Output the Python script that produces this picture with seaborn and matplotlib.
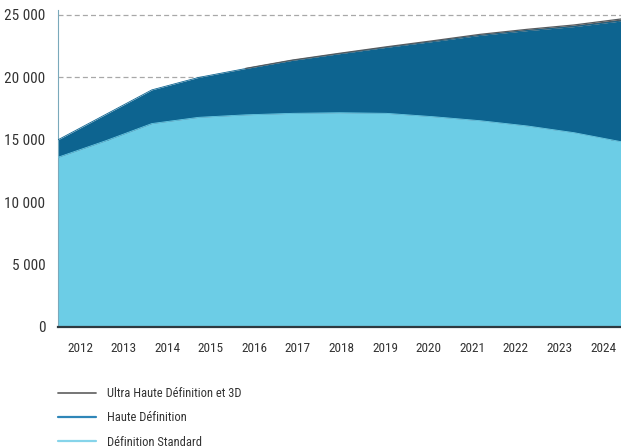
import numpy as np
import pandas as pd
import matplotlib
matplotlib.use("Agg")
import matplotlib.pyplot as plt
from matplotlib import font_manager
from matplotlib.lines import Line2D
import seaborn as sns

years = [2012, 2013, 2014, 2015, 2016, 2017, 2018, 2019, 2020, 2021, 2022, 2023, 2024]
sd = [13600, 14900, 16300, 16800, 17000, 17120, 17170, 17120, 16850, 16530, 16110, 15570, 14850]
hd = [1400, 2100, 2700, 3200, 3710, 4250, 4730, 5290, 6030, 6840, 7640, 8500, 9670]
uhd = [0, 0, 0, 0, 10, 20, 30, 40, 60, 80, 100, 130, 160]
y_ticks = [0, 5000, 10000, 15000, 20000, 25000]
y_labels = ["0", "5 000", "10 000", "15 000", "20 000", "25 000"]
series_names = ["Ultra Haute Définition et 3D", "Haute Définition", "Définition Standard"]

sns.set_theme(style="white")
names = {f.name for f in font_manager.fontManager.ttflist}
cands = ["Roboto Condensed", "Liberation Sans Narrow", "DejaVu Sans Condensed", "Roboto", "DejaVu Sans"]
fam = [f for f in cands if f in names]
plt.rcParams["font.family"] = fam

df = pd.DataFrame({"year": years, "sd": sd, "hd": hd, "uhd": uhd})
df["c1"] = df["sd"]
df["c2"] = df["sd"] + df["hd"]
df["c3"] = df["c2"] + df["uhd"]

fig = plt.figure(figsize=(6.21, 4.47), dpi=100)
ax = fig.add_axes([58 / 621, 1 - 327 / 447, 1 - 58 / 621, (327 - 10) / 447])

c_sd = "#6ccde6"
c_hd = "#0d6490"
c_uhd = "#555a5e"

for yv in y_ticks[1:]:
    ax.axhline(yv, color="#a8a8a8", lw=0.9, ls=(0, (4, 2.5)), zorder=0)

ax.fill_between(df["year"], 0, df["c1"], color=c_sd, lw=0, zorder=2)
ax.fill_between(df["year"], df["c1"], df["c2"], color=c_hd, lw=0, zorder=2)
ax.fill_between(df["year"], df["c2"], df["c3"], color=c_uhd, lw=0, zorder=2)
sns.lineplot(data=df, x="year", y="c1", ax=ax, color=c_sd, lw=0.6, zorder=3)
sns.lineplot(data=df, x="year", y="c2", ax=ax, color=c_hd, lw=0.6, zorder=3)
sns.lineplot(data=df[df["uhd"] > 0], x="year", y="c3", ax=ax, color=c_uhd, lw=0.9, zorder=3)

ax.set_xlim(2012, 2024)
ax.set_ylim(0, 25400)
ax.set_yticks(y_ticks)
ax.set_yticklabels(y_labels)
tick_pos = np.linspace(2012 + 22 / 47, 2012 + 546 / 47, len(years))
ax.set_xticks(tick_pos)
ax.set_xticklabels([str(y) for y in years])
ax.set_xlabel("")
ax.set_ylabel("")
for s in ["top", "right"]:
    ax.spines[s].set_visible(False)
ax.spines["left"].set_visible(True)
ax.spines["left"].set_color("#7aa9bb")
ax.spines["left"].set_linewidth(0.8)
ax.spines["bottom"].set_color("#2e3a40")
ax.spines["bottom"].set_linewidth(1.6)
ax.spines["bottom"].set_zorder(5)
ax.tick_params(axis="y", length=0, pad=9, labelsize=11, labelcolor="#333333")
ax.tick_params(axis="x", length=0, pad=11, labelsize=9.5, labelcolor="#333333")

handles = [Line2D([], [], color="#6a6a6a", lw=1.3),
           Line2D([], [], color="#2f86b8", lw=1.6),
           Line2D([], [], color="#86d4ea", lw=1.6)]
fig.legend(handles, series_names, loc="upper left", bbox_to_anchor=(58 / 621, 1 - 387 / 447),
           frameon=False, fontsize=9, handlelength=3.0, handletextpad=0.95,
           labelspacing=0.9, labelcolor="#333333", borderpad=0, borderaxespad=0)

fig.savefig("out.png", dpi=100)
